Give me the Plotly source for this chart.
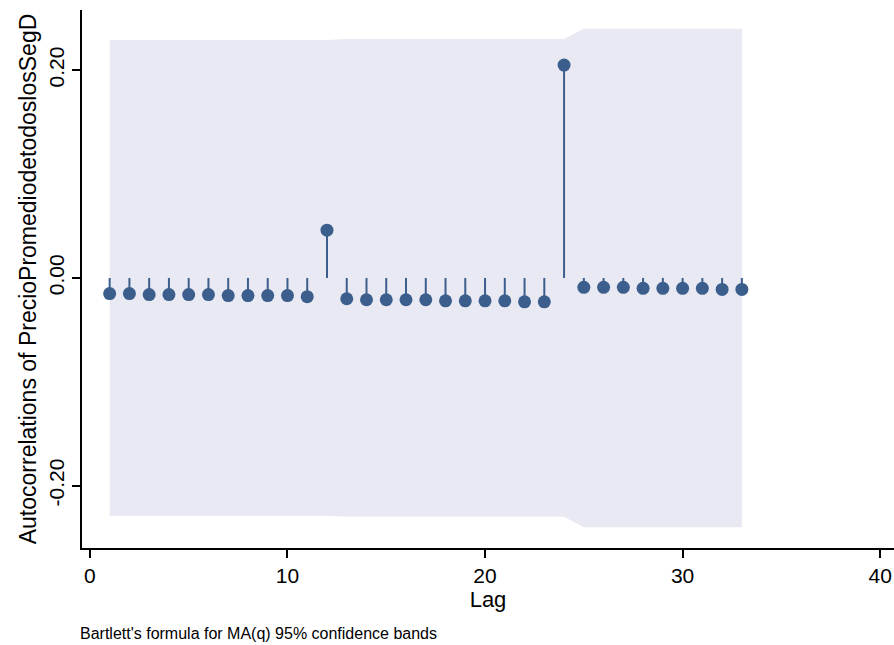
import plotly.graph_objects as go

lags = list(range(1, 34))
acf = [-0.015, -0.015, -0.016, -0.016, -0.016, -0.016, -0.017, -0.017, -0.017, -0.017, -0.018,
       0.046,
       -0.020, -0.021, -0.021, -0.021, -0.021, -0.022, -0.022, -0.022, -0.022, -0.023, -0.023,
       0.205,
       -0.009, -0.009, -0.009, -0.010, -0.010, -0.010, -0.010, -0.011, -0.011]
band = [0.229, 0.229, 0.229, 0.229, 0.229, 0.229, 0.229, 0.229, 0.229, 0.229, 0.229,
        0.229, 0.230, 0.230, 0.230, 0.230, 0.230, 0.230, 0.230, 0.230, 0.230, 0.230, 0.230,
        0.230, 0.240, 0.240, 0.240, 0.240, 0.240, 0.240, 0.240, 0.240, 0.240]
xticks = [0, 10, 20, 30, 40]
yticks = [-0.2, 0.0, 0.2]
ytick_text = ["-0.20", "0.00", "0.20"]

band_color = "#e9e9f4"
mark_color = "#3b5e8c"

fig = go.Figure()
# confidence band
fig.add_trace(go.Scatter(x=lags + lags[::-1], y=band + [-b for b in band[::-1]],
                         fill="toself", fillcolor=band_color, line=dict(width=0),
                         mode="lines", hoverinfo="skip", showlegend=False))
# stems
sx, sy = [], []
for l, v in zip(lags, acf):
    sx += [l, l, None]
    sy += [0, v, None]
fig.add_trace(go.Scatter(x=sx, y=sy, mode="lines", line=dict(color=mark_color, width=2),
                         showlegend=False, hoverinfo="skip"))
fig.add_trace(go.Scatter(x=lags, y=acf, mode="markers",
                         marker=dict(color=mark_color, size=13), showlegend=False))

fig.update_layout(
    width=894, height=645,
    margin=dict(l=82, r=0, t=10, b=97),
    plot_bgcolor="white", paper_bgcolor="white",
    font=dict(family="Liberation Sans, Arial, sans-serif", color="black"),
    xaxis=dict(range=[-0.4, 40.7], tickvals=xticks, showgrid=False, zeroline=False,
               showline=True, linecolor="black", linewidth=1.5,
               ticks="outside", ticklen=8, tickcolor="black", tickwidth=1.5,
               tickfont=dict(size=21),
               title=dict(text="Lag", font=dict(size=22), standoff=6)),
    yaxis=dict(range=[-0.26, 0.258], tickvals=yticks, ticktext=ytick_text, tickangle=-90,
               showgrid=False, zeroline=False,
               showline=True, linecolor="black", linewidth=1.5,
               ticks="outside", ticklen=8, tickcolor="black", tickwidth=1.5,
               tickfont=dict(size=21),
               title=dict(text="Autocorrelations of PrecioPromediodetodoslosSegD",
                          font=dict(size=23), standoff=2)),
)
fig.add_annotation(text="Bartlett's formula for MA(q) 95% confidence bands",
                   xref="paper", yref="paper", x=-0.005, y=-0.158,
                   xanchor="left", yanchor="middle", showarrow=False,
                   font=dict(size=16, color="black"))

fig.write_html("out.html")
